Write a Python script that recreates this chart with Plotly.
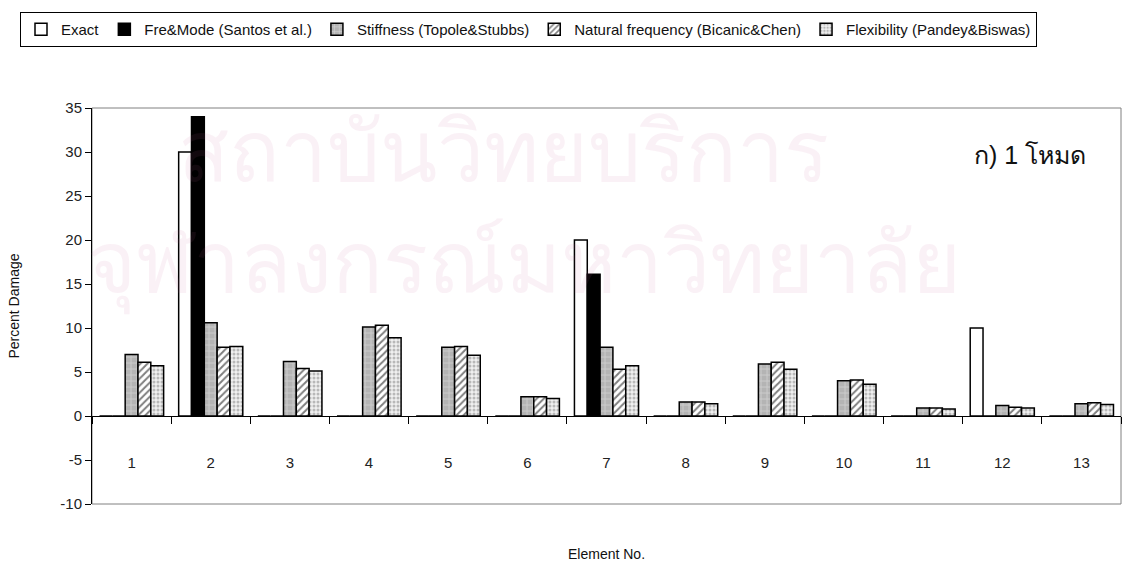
import plotly.graph_objects as go

elements = [str(i) for i in range(1, 14)]
exact = [0, 30, 0, 0, 0, 0, 20, 0, 0, 0, 0, 10, 0]
fre_mode = [0, 34, 0, 0, 0, 0, 16.1, 0, 0, 0, 0, 0, 0]
stiffness = [7.0, 10.6, 6.2, 10.1, 7.8, 2.2, 7.8, 1.6, 5.9, 4.0, 0.9, 1.2, 1.4]
natural_freq = [6.1, 7.8, 5.4, 10.3, 7.9, 2.2, 5.3, 1.6, 6.1, 4.1, 0.9, 1.0, 1.5]
flexibility = [5.7, 7.9, 5.1, 8.9, 6.9, 2.0, 5.7, 1.4, 5.3, 3.6, 0.8, 0.9, 1.3]

names = ["Exact", "Fre&Mode (Santos et al.)", "Stiffness (Topole&Stubbs)",
         "Natural frequency (Bicanic&Chen)", "Flexibility (Pandey&Biswas)"]

y_tickvals = [-10, -5, 0, 5, 10, 15, 20, 25, 30, 35]
y_ticktext = ["-10", "-5", "0", "5", "10", "15", "20", "25", "30", "35"]

line = dict(color="black", width=1.5)
fig = go.Figure()
fig.add_bar(x=elements, y=exact, name=names[0],
            marker=dict(color="white", line=line))
fig.add_bar(x=elements, y=fre_mode, name=names[1],
            marker=dict(color="black", line=line))
fig.add_bar(x=elements, y=stiffness, name=names[2],
            marker=dict(color="#b8b8b8", line=line,
                        pattern=dict(shape="+", fgcolor="#ececec", bgcolor="#b4b4b4",
                                     size=6, solidity=0.25)))
fig.add_bar(x=elements, y=natural_freq, name=names[3],
            marker=dict(color="white", line=line,
                        pattern=dict(shape="/", fgcolor="black", bgcolor="white",
                                     size=5, solidity=0.4)))
fig.add_bar(x=elements, y=flexibility, name=names[4],
            marker=dict(color="#dddddd", line=line,
                        pattern=dict(shape=".", fgcolor="#808080", bgcolor="#f0f0f0",
                                     size=4, solidity=0.45)))

ymin, ymax = -10, 35
zero_pos = (0 - ymin) / (ymax - ymin)

fig.update_layout(
    width=1124, height=570,
    margin=dict(l=92, r=3, t=108, b=66, autoexpand=False),
    paper_bgcolor="white", plot_bgcolor="white",
    barmode="group", bargap=0.19, bargroupgap=0,
    font=dict(family="Liberation Sans, Arial, sans-serif", color="#111", size=14),
    showlegend=True,
    legend=dict(orientation="h", xref="container", yref="container",
                x=20 / 1124, xanchor="left", y=1 - 12 / 570, yanchor="top",
                font=dict(size=15), bordercolor="black", borderwidth=1,
                bgcolor="white", itemwidth=30, tracegroupgap=0),
    xaxis=dict(type="category", anchor="free", position=zero_pos, automargin=False,
               showline=True, linecolor="black", linewidth=1,
               ticks="outside", tickson="boundaries", ticklen=7, tickcolor="black",
               ticklabelstandoff=33, tickfont=dict(size=15, color="#222"),
               showgrid=False, zeroline=False),
    yaxis=dict(range=[ymin, ymax], tickvals=y_tickvals, ticktext=y_ticktext,
               automargin=False, showline=True, linecolor="black", linewidth=1,
               ticks="outside", ticklen=6, tickcolor="black",
               tickfont=dict(size=15, color="#222"), showgrid=False, zeroline=False,
               title=dict(text="Percent Damage", font=dict(size=14, color="#111"), standoff=37)),
)

# plot frame
fig.add_shape(type="rect", xref="paper", yref="paper", x0=0, x1=1, y0=0, y1=1,
              line=dict(color="#808080", width=1), layer="below")

# watermark
wm = "rgba(200,100,150,0.09)"
fig.add_annotation(text="สถาบันวิทยบริการ", xref="paper", yref="paper", x=0.40,
                   y=(504 - 152) / 396, yanchor="middle",
                   showarrow=False, font=dict(size=84, color=wm))
fig.add_annotation(text="จุฬาลงกรณ์มหาวิทยาลัย", xref="paper", yref="paper", x=0.42,
                   y=(504 - 265) / 396, yanchor="middle",
                   showarrow=False, font=dict(size=84, color=wm))

fig.add_annotation(text="ก) 1 โหมด", xref="paper", yref="paper", x=0.968, y=0.881,
                   xanchor="right", yanchor="middle", showarrow=False,
                   font=dict(size=25, color="#111"))
fig.add_annotation(text="Element No.", xref="paper", yref="paper", x=0.5, y=0, yshift=-40,
                   xanchor="center", yanchor="top", showarrow=False,
                   font=dict(size=14, color="#111"))

fig.write_html("out.html", config={"displayModeBar": False},
               post_script="document.body.style.margin='0';")
